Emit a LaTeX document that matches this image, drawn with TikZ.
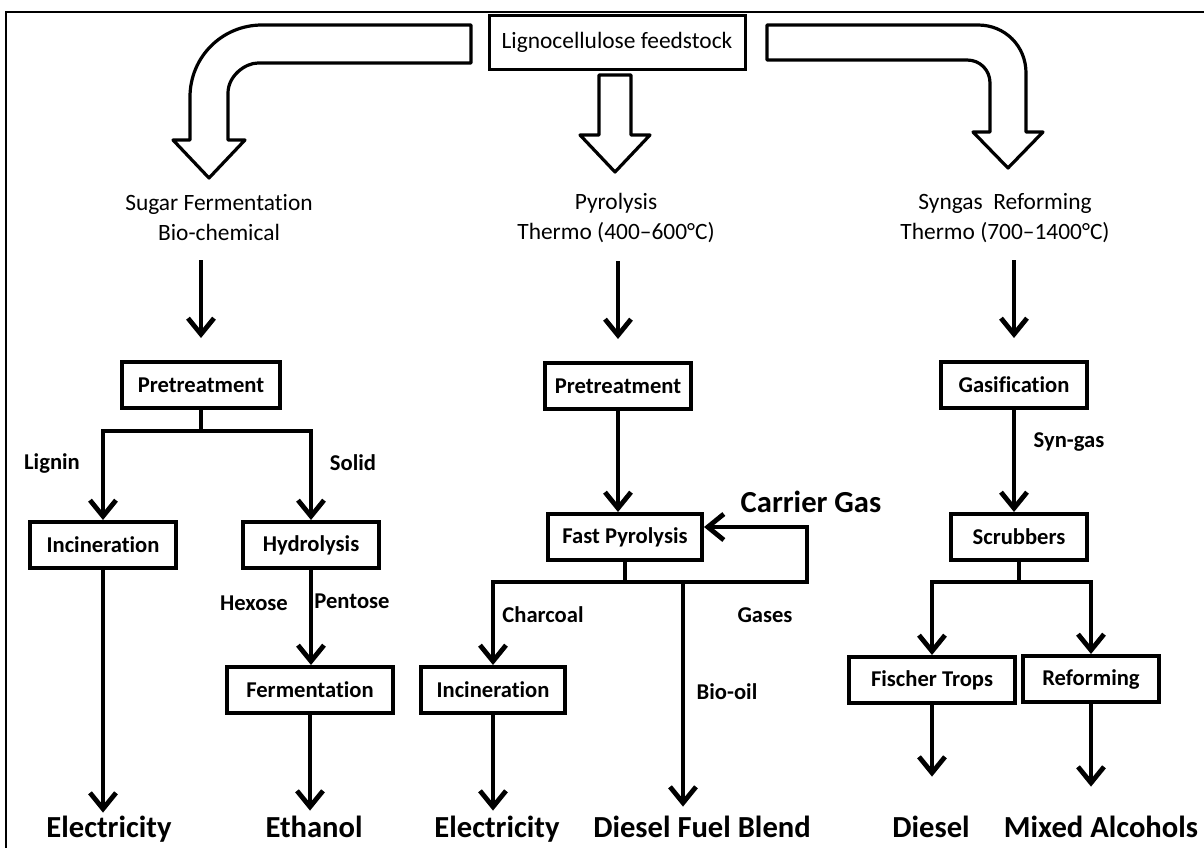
\documentclass[tikz,border=0pt]{standalone}
\usepackage{fontspec}
\setmainfont{Carlito}[Ligatures=NoCommon]
\usetikzlibrary{arrows.meta}
\tikzset{
  box/.style={draw, line width=2pt, font=\fontsize{11.3}{13}\selectfont\bfseries, inner sep=0pt, minimum height=23pt},
  flow/.style={line width=2.4pt, -{Straight Barb[length=8pt,width=13pt]}},
  trunk/.style={line width=2.4pt},
  hollow/.style={draw, line width=1.6pt, fill=white, line join=round},
  head/.style={font=\fontsize{11.7}{15}\selectfont, align=center, inner sep=0pt},
  lab/.style={font=\fontsize{11.3}{13}\selectfont\bfseries, inner sep=0pt},
  product/.style={font=\fontsize{15.3}{18}\selectfont\bfseries, inner sep=1pt, text height=11pt, text depth=3pt, anchor=base},
}
\begin{document}
\begin{tikzpicture}[x=0.5pt,y=-0.5pt]
\path[use as bounding box, clip] (0,0) rectangle (1204,847);
\draw[line width=0.9pt] (6,12) rectangle (1220,870);

\node[box, font=\fontsize{11.7}{14}\selectfont, line width=1.5pt, minimum width=128pt, minimum height=27pt] (feed) at (617,42) {Lignocellulose feedstock};

\draw[hollow] (471,25) -- (262,25) .. controls (222,25) and (190,57) .. (190,97) -- (190,140) -- (173,140) -- (209,178) -- (245,140) -- (228,140) -- (228,93) .. controls (228,76) and (245,63) .. (258,63) -- (471,63) -- cycle;
\draw[hollow] (599,75) -- (599,135) -- (580,135) -- (615,172) -- (650,135) -- (631,135) -- (631,75) -- cycle;
\draw[hollow] (767,25) -- (978,25) .. controls (1005,25) and (1026,46) .. (1026,73) -- (1026,132) -- (1043,132) -- (1008,168) -- (973,132) -- (990,132) -- (990,83) .. controls (990,70) and (980,60) .. (967,60) -- (767,60) -- cycle;

\node[head] (sugar) at (219,218) {Sugar Fermentation\\Bio-chemical};
\node[head] (pyro) at (616,218) {Pyrolysis\\Thermo (400–600°C)};
\node[head] (syn) at (1005,218) {Syngas\ \ Reforming\\Thermo (700–1400°C)};

\node[box, minimum width=79pt] (pre1) at (201,385) {Pretreatment};
\node[box, minimum width=73pt] (inc1) at (103,545) {Incineration};
\node[box, minimum width=68pt] (hyd) at (311,545) {Hydrolysis};
\node[box, minimum width=83pt] (ferm) at (310,690) {Fermentation};
\node[box, minimum width=73pt] (pre2) at (618,386) {Pretreatment};
\node[box, minimum width=77pt] (fast) at (625,537) {Fast Pyrolysis};
\node[box, minimum width=72pt] (inc2) at (493,690) {Incineration};
\node[box, minimum width=73pt] (gas) at (1014,385) {Gasification};
\node[box, minimum width=68pt] (scrub) at (1019,537) {Scrubbers};
\node[box, minimum width=83pt] (ft) at (932,680) {Fischer Trops};
\node[box, minimum width=68pt] (ref) at (1091,679) {Reforming};

\node[product] (elec1) at (109,837) {Electricity};
\node[product] (eth) at (314,837) {Ethanol};
\node[product] (elec2) at (497,837) {Electricity};
\node[product] (dfb) at (702,837) {Diesel Fuel Blend};
\node[product] (dsl) at (931,837) {Diesel};
\node[product] (mix) at (1101,837) {Mixed Alcohols};
\node[font=\fontsize{15.3}{18}\selectfont\bfseries, inner sep=0pt] (carrier) at (811,502) {Carrier Gas};

\node[lab] (lignin) at (52,463) {Lignin};
\node[lab] (solid) at (353,463) {Solid};
\node[lab] (hexose) at (254,603) {Hexose};
\node[lab] (pentose) at (352,601) {Pentose};
\node[lab] (charcoal) at (543,615) {Charcoal};
\node[lab] (gases) at (765,615) {Gases};
\node[lab] (biooil) at (727,692) {Bio-oil};
\node[lab] (syngas) at (1069,442) {Syn-gas};

% sugar route
\draw[flow] (pre1.north) ++(0,-100) -- ++(0,78);
\draw[flow] (pre1.south) -- ++(0,21) -| (inc1.north);
\draw[flow] (pre1.south) -- ++(0,21) -| (hyd.north);
\draw[flow] (inc1.south) -- (inc1.south |- elec1.north);
\draw[flow] (hyd.south) -- (hyd.south |- ferm.north);
\draw[flow, shorten >=1pt] (ferm.south) -- (ferm.south |- eth.north);

% pyrolysis route
\draw[flow] (pre2.north) ++(0,-100) -- ++(0,78);
\draw[flow] (pre2.south) -- (pre2.south |- fast.north);
\draw[trunk] (fast.south) -- ++(0,20) coordinate (jn);
\draw[flow] (jn) -| (inc2.north);
\draw[flow] (jn) -| ([xshift=51.5pt,yshift=5pt]fast.east) -- ([yshift=5pt]fast.east);
\draw[flow, shorten >=3pt] ([xshift=29pt]jn) -- ([xshift=29pt]jn |- dfb.north);
\draw[flow, shorten >=1pt] (inc2.south) -- (inc2.south |- elec2.north);

% syngas route
\draw[flow] (gas.north) ++(0,-100) -- ++(0,78);
\draw[flow] (gas.south) -- (gas.south |- scrub.north);
\draw[flow] (scrub.south) -- ++(0,20) -| (ft.north);
\draw[flow] (scrub.south) -- ++(0,20) -| (ref.north);
\draw[flow, shorten >=18pt] (ft.south) -- (ft.south |- dsl.north);
\draw[flow, shorten >=13pt] (ref.south) -- (ref.south |- mix.north);
\end{tikzpicture}
\end{document}
